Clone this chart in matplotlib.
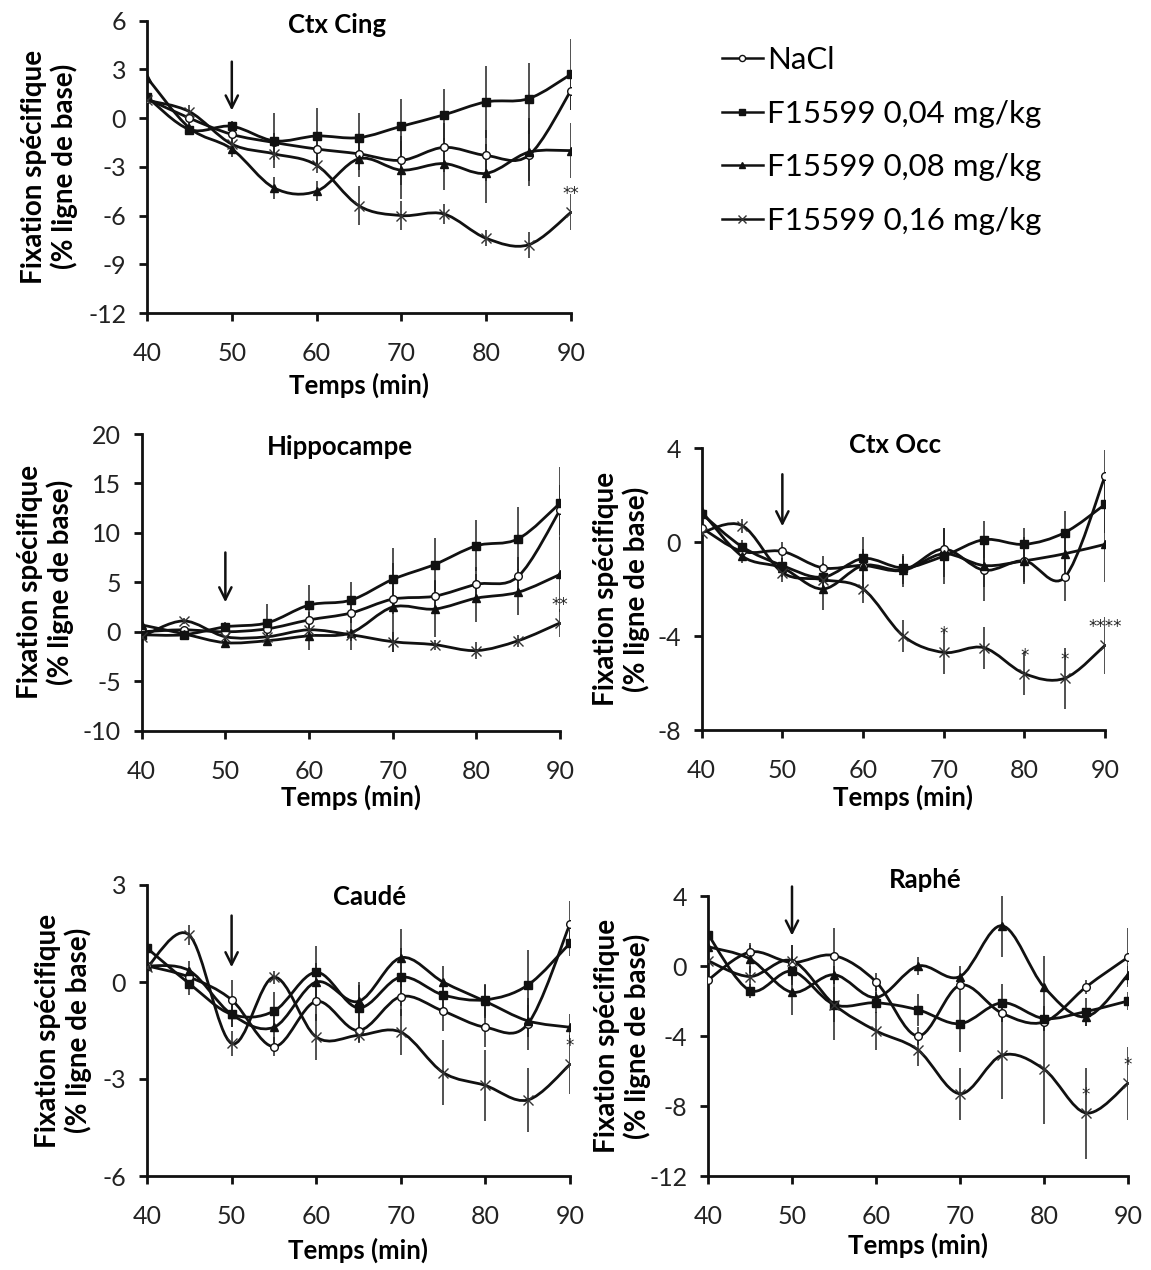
import numpy as np
import matplotlib
matplotlib.use("Agg")
import matplotlib.pyplot as plt
from matplotlib.path import Path
from matplotlib.patches import PathPatch
from matplotlib.lines import Line2D

plt.rcParams['font.family'] = ['Lato', 'DejaVu Sans']

# temps (min)
temps = [40, 45, 50, 55, 60, 65, 70, 75, 80, 85, 90]
noms = ['NaCl', 'F15599 0,04 mg/kg', 'F15599 0,08 mg/kg', 'F15599 0,16 mg/kg']

# Ctx Cing
cing_nacl = [1.2, 0.0, -1.0, -1.5, -1.9, -2.2, -2.6, -1.8, -2.3, -2.3, 1.7]
cing_004 = [1.3, -0.7, -0.5, -1.4, -1.1, -1.2, -0.5, 0.2, 1.0, 1.2, 2.7]
cing_008 = [2.5, -0.6, -1.9, -4.3, -4.5, -2.5, -3.2, -2.8, -3.4, -2.1, -2.0]
cing_016 = [1.1, 0.4, -1.6, -2.2, -2.9, -5.4, -6.0, -5.9, -7.4, -7.8, -5.8]
cing_err_nacl = [0.3, 0.4, 0.4, 0.6, 0.9, 1.0, 1.5, 1.5, 1.6, 1.6, 1.2]
cing_err_004 = [0.3, 0.3, 0.3, 1.7, 1.7, 1.5, 1.7, 1.6, 2.2, 2.2, 2.2]
cing_err_008 = [0.3, 0.4, 0.5, 0.7, 0.6, 1.1, 1.8, 1.6, 1.8, 2.1, 1.7]
cing_err_016 = [0.3, 0.4, 0.5, 0.4, 0.5, 1.2, 0.9, 0.6, 0.5, 0.8, 1.1]

# Hippocampe
hip_nacl = [0.0, 0.2, 0.0, 0.3, 1.2, 1.9, 3.3, 3.6, 4.8, 5.6, 12.3]
hip_004 = [-0.3, -0.3, 0.5, 0.9, 2.7, 3.2, 5.3, 6.8, 8.7, 9.4, 13.0]
hip_008 = [0.7, -0.2, -1.1, -0.9, -0.4, -0.1, 2.5, 2.3, 3.4, 4.0, 5.8]
hip_016 = [-0.5, 1.1, -0.5, -0.5, 0.2, -0.3, -1.0, -1.3, -1.9, -0.9, 0.9]
hip_err_nacl = [0.3, 0.3, 0.4, 0.6, 0.8, 1.0, 1.5, 1.6, 1.8, 2.0, 2.5]
hip_err_004 = [0.3, 0.3, 0.5, 1.9, 2.0, 1.8, 3.2, 2.7, 2.6, 3.2, 3.7]
hip_err_008 = [0.3, 0.3, 0.4, 0.5, 1.4, 1.7, 4.5, 2.8, 2.4, 2.3, 3.8]
hip_err_016 = [0.3, 0.3, 0.4, 0.4, 0.5, 0.6, 1.0, 0.5, 0.9, 0.6, 1.4]

# Ctx Occ
occ_nacl = [0.6, -0.4, -0.4, -1.1, -1.0, -1.2, -0.3, -1.2, -0.8, -1.5, 2.8]
occ_004 = [1.2, -0.2, -1.0, -1.5, -0.7, -1.1, -0.6, 0.1, -0.1, 0.4, 1.6]
occ_008 = [1.3, -0.6, -1.1, -2.0, -1.0, -1.2, -0.5, -1.0, -0.8, -0.5, -0.1]
occ_016 = [0.4, 0.7, -1.3, -1.6, -2.0, -4.0, -4.7, -4.5, -5.6, -5.8, -4.4]
occ_err_nacl = [0.3, 0.3, 0.4, 0.5, 0.6, 0.6, 0.9, 1.3, 0.9, 1.0, 1.1]
occ_err_004 = [0.2, 0.3, 0.3, 0.6, 0.4, 0.5, 1.2, 0.8, 0.7, 0.9, 1.2]
occ_err_008 = [0.3, 0.3, 0.4, 0.9, 1.2, 0.7, 1.0, 0.9, 1.0, 1.0, 1.6]
occ_err_016 = [0.3, 0.3, 0.4, 0.5, 0.6, 0.7, 0.9, 0.9, 0.9, 1.3, 1.2]

# Caudé
cau_nacl = [0.5, 0.15, -0.55, -2.0, -0.6, -1.5, -0.45, -0.9, -1.4, -1.3, 1.8]
cau_004 = [1.05, -0.05, -1.0, -0.9, 0.3, -0.8, 0.15, -0.4, -0.55, -0.1, 1.2]
cau_008 = [0.5, 0.35, -1.0, -1.4, 0.0, -0.6, 0.75, 0.0, -0.6, -1.2, -1.4]
cau_016 = [0.45, 1.45, -1.9, 0.15, -1.7, -1.65, -1.55, -2.8, -3.2, -3.65, -2.55]
cau_err_nacl = [0.2, 0.3, 0.6, 0.3, 0.6, 0.4, 0.6, 0.6, 0.6, 0.8, 0.7]
cau_err_004 = [0.2, 0.35, 0.4, 0.6, 0.8, 0.8, 0.9, 0.4, 0.5, 1.1, 0.4]
cau_err_008 = [0.2, 0.3, 0.4, 0.5, 0.6, 0.5, 0.9, 0.5, 0.5, 0.5, 0.4]
cau_err_016 = [0.2, 0.3, 0.4, 0.2, 0.7, 0.2, 0.7, 1.0, 1.1, 1.0, 0.9]

# Raphé
rap_nacl = [-0.8, 0.8, 0.2, 0.6, -0.9, -4.0, -1.1, -2.7, -3.2, -1.2, 0.5]
rap_004 = [1.8, -1.4, -0.3, -2.2, -2.1, -2.5, -3.3, -2.1, -3.0, -2.6, -2.0]
rap_008 = [1.1, 0.4, -1.5, -0.5, -1.8, 0.0, -0.6, 2.3, -1.2, -2.9, -0.5]
rap_016 = [0.3, -0.6, 0.3, -2.2, -3.7, -4.8, -7.3, -5.1, -5.9, -8.4, -6.7]
rap_err_nacl = [0.3, 0.5, 1.0, 1.6, 0.5, 0.5, 0.6, 0.5, 0.5, 0.4, 1.7]
rap_err_004 = [0.3, 0.4, 0.8, 2.0, 0.6, 0.9, 1.6, 1.1, 0.7, 0.8, 0.5]
rap_err_008 = [0.3, 0.8, 1.3, 0.5, 0.6, 0.5, 0.6, 1.8, 1.8, 0.5, 0.5]
rap_err_016 = [0.3, 0.6, 0.9, 1.0, 1.1, 0.9, 1.5, 2.5, 3.1, 2.6, 2.1]

# étoiles (indice du temps, texte) sur la courbe 0,16 mg/kg
cing_etoiles = [(10, '**')]
hip_etoiles = [(10, '**')]
occ_etoiles = [(6, '*'), (8, '*'), (9, '*'), (10, '****')]
cau_etoiles = [(10, '*')]
rap_etoiles = [(9, '*'), (10, '*')]

panneaux = [
    dict(titre='Ctx Cing', ylim=(-12, 6), yticks=[6, 3, 0, -3, -6, -9, -12],
         series=[cing_nacl, cing_004, cing_008, cing_016],
         errs=[cing_err_nacl, cing_err_004, cing_err_008, cing_err_016],
         etoiles=cing_etoiles, fleche=(3.65, 0.3),
         box=(147, 20.7, 571, 313), tpos=(0.448, 0.985), lx=-0.163, xlpad=0.205),
    dict(titre='Hippocampe', ylim=(-10, 20), yticks=[20, 15, 10, 5, 0, -5, -10],
         series=[hip_nacl, hip_004, hip_008, hip_016],
         errs=[hip_err_nacl, hip_err_004, hip_err_008, hip_err_016],
         etoiles=hip_etoiles, fleche=(8.3, 2.7),
         box=(141.7, 434, 560, 730.7), tpos=(0.474, 0.956), lx=-0.163, xlpad=0.183),
    dict(titre='Ctx Occ', ylim=(-8, 4), yticks=[4, 0, -4, -8],
         series=[occ_nacl, occ_004, occ_008, occ_016],
         errs=[occ_err_nacl, occ_err_004, occ_err_008, occ_err_016],
         etoiles=occ_etoiles, fleche=(3.0, 0.55),
         box=(701.7, 448, 1105, 730), tpos=(0.479, 1.01), lx=-0.127, xlpad=0.195),
    dict(titre='Caudé', ylim=(-6, 3), yticks=[3, 0, -3, -6],
         series=[cau_nacl, cau_004, cau_008, cau_016],
         errs=[cau_err_nacl, cau_err_004, cau_err_008, cau_err_016],
         etoiles=cau_etoiles, fleche=(2.14, 0.37),
         box=(147, 885, 570, 1176), tpos=(0.527, 0.959), lx=-0.13, xlpad=0.213),
    dict(titre='Raphé', ylim=(-12, 4), yticks=[4, 0, -4, -8, -12],
         series=[rap_nacl, rap_004, rap_008, rap_016],
         errs=[rap_err_nacl, rap_err_004, rap_err_008, rap_err_016],
         etoiles=rap_etoiles, fleche=(4.7, 1.58),
         box=(708, 896, 1128, 1176), tpos=(0.517, 1.057), lx=-0.136, xlpad=0.204),
]

marqueurs = [
    dict(marker='o', ms=5.5, mfc='white', mec='#111111', mew=1.0),
    dict(marker='s', ms=6, mfc='#111111', mec='#111111', mew=1.0),
    dict(marker='^', ms=6, mfc='#111111', mec='#111111', mew=1.0),
    dict(marker='x', ms=7, mfc='none', mec='#333333', mew=1.0),
]


def courbe_lisse(x, y):
    # courbe lissée façon Excel (Catmull-Rom -> Bézier)
    n = len(x)
    verts = [(x[0], y[0])]
    codes = [Path.MOVETO]
    for i in range(n - 1):
        a = max(i - 1, 0)
        b = min(i + 2, n - 1)
        c1 = (x[i] + (x[i + 1] - x[a]) / 6, y[i] + (y[i + 1] - y[a]) / 6)
        c2 = (x[i + 1] - (x[b] - x[i]) / 6, y[i + 1] - (y[b] - y[i]) / 6)
        verts += [c1, c2, (x[i + 1], y[i + 1])]
        codes += [Path.CURVE4] * 3
    return Path(verts, codes)


W, H = 1151, 1270
fig = plt.figure(figsize=(W / 100, H / 100), dpi=100)

for p in panneaux:
    l, t, r, b = p['box']
    ax = fig.add_axes([l / W, 1 - b / H, (r - l) / W, (b - t) / H])
    for k in range(4):
        y = p['series'][k]
        ax.errorbar(temps, y, yerr=p['errs'][k], fmt='none', ecolor='#222222',
                    elinewidth=1.1, capsize=0, zorder=2)
    for k in range(4):
        y = p['series'][k]
        ax.add_patch(PathPatch(courbe_lisse(temps, y), fill=False,
                               edgecolor='#111111', lw=2.0, zorder=3))
        ax.plot(temps, y, linestyle='none', zorder=4, **marqueurs[k])

    for idx, txt in p['etoiles']:
        ax.annotate(txt, (temps[idx], p['series'][3][idx]), xytext=(0, 13),
                    textcoords='offset points', ha='center', va='center',
                    fontsize=12, color='#222222', zorder=5,
                    family='DejaVu Sans')

    haut, bas = p['fleche']
    ax.annotate('', xy=(50, bas), xytext=(50, haut),
                arrowprops=dict(arrowstyle='->', color='#111111', lw=1.8,
                                mutation_scale=22), zorder=5)

    ax.set_xlim(40, 90)
    ax.set_ylim(*p['ylim'])
    ax.set_xticks([40, 50, 60, 70, 80, 90])
    ax.set_yticks(p['yticks'])
    ax.set_yticklabels([str(v) for v in p['yticks']])
    for s in ['top', 'right']:
        ax.spines[s].set_visible(False)
    for s in ['left', 'bottom']:
        ax.spines[s].set_linewidth(2.0)
        ax.spines[s].set_color('#111111')
    ax.tick_params(axis='both', direction='out', length=6, width=2.0,
                   color='#111111', labelsize=18, labelcolor='#222222')
    ax.tick_params(axis='x', pad=15)
    ax.tick_params(axis='y', pad=9)

    ax.text(p['tpos'][0], p['tpos'][1], p['titre'], transform=ax.transAxes,
            ha='center', va='center', fontsize=18.5, fontweight='bold')
    ax.set_ylabel('Fixation spécifique\n(% ligne de base)', fontsize=20,
                  fontweight='bold', linespacing=1.15)
    ax.yaxis.set_label_coords(p['lx'], 0.5)
    ax.set_xlabel('Temps (min)', fontsize=18.5, fontweight='bold')
    ax.xaxis.set_label_coords(0.5, -p['xlpad'])

poignees = [Line2D([0], [0], color='#111111', lw=1.8, **dict(m, ms=m['ms'] * 0.8))
            for m in marqueurs]
fig.legend(poignees, noms, loc='upper left', bbox_to_anchor=(722 / W, 1 - 46 / H),
           frameon=False, fontsize=22.5, handlelength=1.3, handletextpad=0.15,
           labelspacing=0.82, borderaxespad=0, borderpad=0)

fig.savefig('out.png', dpi=100)
